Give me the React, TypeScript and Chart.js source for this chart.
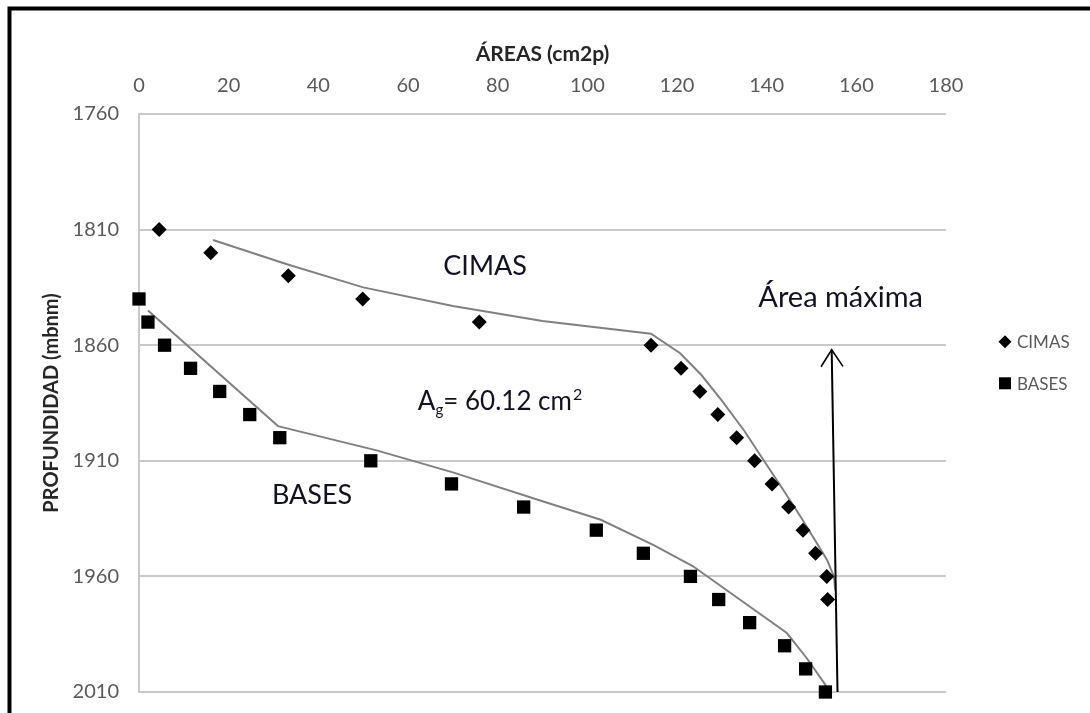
import React, { useEffect, useRef } from 'react';
import { Chart, registerables } from 'chart.js';

Chart.register(...registerables);

// ---- data ----
const cimasArea = [4.5, 16.0, 33.3, 49.9, 75.9, 114.2, 120.9, 125.1, 129.1, 133.3, 137.3, 141.2, 144.9, 148.1, 150.9, 153.4, 153.6];
const cimasDepth = [1810, 1820, 1830, 1840, 1850, 1860, 1870, 1880, 1890, 1900, 1910, 1920, 1930, 1940, 1950, 1960, 1970];

const basesArea = [0, 2.0, 5.7, 11.5, 18.0, 24.7, 31.4, 51.7, 69.7, 85.8, 102.0, 112.5, 123.0, 129.3, 136.2, 144.0, 148.7, 153.1];
const basesDepth = [1840, 1850, 1860, 1870, 1880, 1890, 1900, 1910, 1920, 1930, 1940, 1950, 1960, 1970, 1980, 1990, 2000, 2010];

// hand-drawn envelope lines
const cimasLineArea = [16.5, 33, 50, 70, 90, 114.2, 120.7, 125.5, 130, 135, 139.4, 143.5, 147.5, 151, 153.5, 155, 155.3];
const cimasLineDepth = [1814.5, 1825, 1835, 1843, 1849.5, 1855, 1863.5, 1873, 1884, 1897, 1910, 1922, 1934, 1945, 1953, 1960, 1966];

const basesLineArea = [2, 31, 53, 70, 90, 103, 114.8, 123.5, 134, 144.5, 149, 153.5];
const basesLineDepth = [1845, 1895, 1905.5, 1915, 1927.5, 1935.5, 1946.5, 1955.5, 1970, 1984.5, 1995.5, 2008];

// axis ticks
const xTickValues = [0, 20, 40, 60, 80, 100, 120, 140, 160, 180];
const yTickValues = [1760, 1810, 1860, 1910, 1960, 2010];

const seriesNames = ['CIMAS', 'BASES'];
const xTitle = 'ÁREAS (cm2p)';
const yTitle = 'PROFUNDIDAD (mbnm)';

// "Área máxima" arrow (area, depth): tail then tip
const arrowArea = [155.8, 154.5];
const arrowDepth = [2010, 1862];

// text notes placed in data coordinates
const noteTexts = ['CIMAS', 'BASES', 'Área máxima'];
const noteArea = [77.2, 38.6, 156.5];
const noteDepth = [1826, 1925, 1839.6];
const formulaArea = 62.2;
const formulaDepth = 1888.1;

const FONT = 'Lato, "Open Sans", sans-serif';

const overlay = {
  id: 'overlay',
  afterDraw(chart: any) {
    const ctx = chart.ctx as CanvasRenderingContext2D;
    const xs = chart.scales.x;
    const ys = chart.scales.y;
    ctx.save();

    // notes
    ctx.fillStyle = '#111122';
    ctx.textAlign = 'center';
    ctx.textBaseline = 'middle';
    noteTexts.forEach((t, i) => {
      ctx.font = `${i === 2 ? 29 : 27}px ${FONT}`;
      ctx.fillText(t, xs.getPixelForValue(noteArea[i]), ys.getPixelForValue(noteDepth[i]));
    });

    // formula A_g = 60.12 cm²
    let fx = xs.getPixelForValue(formulaArea);
    const fy = ys.getPixelForValue(formulaDepth);
    ctx.textAlign = 'left';
    ctx.textBaseline = 'alphabetic';
    ctx.font = `26px ${FONT}`;
    ctx.fillText('A', fx, fy);
    fx += ctx.measureText('A').width;
    ctx.font = `15px ${FONT}`;
    ctx.fillText('g', fx, fy + 5);
    fx += ctx.measureText('g').width;
    ctx.font = `26px ${FONT}`;
    ctx.fillText('= 60.12 cm', fx, fy);
    fx += ctx.measureText('= 60.12 cm').width + 1;
    ctx.font = `16px ${FONT}`;
    ctx.fillText('2', fx, fy - 10);

    // arrow
    const x1 = xs.getPixelForValue(arrowArea[0]);
    const y1 = ys.getPixelForValue(arrowDepth[0]);
    const x2 = xs.getPixelForValue(arrowArea[1]);
    const y2 = ys.getPixelForValue(arrowDepth[1]);
    ctx.strokeStyle = '#000';
    ctx.lineWidth = 2;
    ctx.beginPath();
    ctx.moveTo(x1, y1);
    ctx.lineTo(x2, y2);
    ctx.stroke();
    const ang = Math.atan2(y2 - y1, x2 - x1);
    const hl = 20;
    const ha = 0.58;
    ctx.lineWidth = 1.6;
    ctx.beginPath();
    ctx.moveTo(x2 - hl * Math.cos(ang - ha), y2 - hl * Math.sin(ang - ha));
    ctx.lineTo(x2, y2);
    ctx.lineTo(x2 - hl * Math.cos(ang + ha), y2 - hl * Math.sin(ang + ha));
    ctx.stroke();

    // legend
    const lx = 1005;
    const ly = [341.7, 383.3];
    ctx.fillStyle = '#000';
    ctx.beginPath();
    ctx.moveTo(lx - 6.5, ly[0]);
    ctx.lineTo(lx, ly[0] - 6.5);
    ctx.lineTo(lx + 6.5, ly[0]);
    ctx.lineTo(lx, ly[0] + 6.5);
    ctx.closePath();
    ctx.fill();
    ctx.fillRect(lx - 6, ly[1] - 6, 12, 12);
    ctx.fillStyle = '#595959';
    ctx.font = `17px ${FONT}`;
    ctx.textAlign = 'left';
    ctx.textBaseline = 'middle';
    seriesNames.forEach((n, i) => ctx.fillText(n, 1017, ly[i] + 1));

    // frame (top and left edges visible)
    ctx.strokeStyle = '#000';
    ctx.lineWidth = 4;
    ctx.beginPath();
    ctx.moveTo(1100, 8.5);
    ctx.lineTo(9.5, 8.5);
    ctx.lineTo(9.5, 720);
    ctx.stroke();

    ctx.restore();
  },
};

export default function App() {
  const ref = useRef<HTMLCanvasElement>(null);
  useEffect(() => {
    const canvas = ref.current!;
    const toPts = (xa: number[], ya: number[]) => xa.map((x, i) => ({ x, y: ya[i] }));
    const chart = new Chart(canvas, {
      type: 'scatter',
      data: {
        datasets: [
          {
            label: seriesNames[0],
            data: toPts(cimasArea, cimasDepth),
            pointStyle: 'rectRot',
            pointRadius: 7.5,
            backgroundColor: '#000',
            borderColor: '#000',
            borderWidth: 0,
            clip: false,
            order: 0,
          },
          {
            label: seriesNames[1],
            data: toPts(basesArea, basesDepth),
            pointStyle: 'rect',
            pointRadius: 9.4,
            backgroundColor: '#000',
            borderColor: '#000',
            borderWidth: 0,
            clip: false,
            order: 0,
          },
          {
            label: 'cimas-line',
            data: toPts(cimasLineArea, cimasLineDepth),
            showLine: true,
            pointRadius: 0,
            borderColor: '#808080',
            borderWidth: 2,
            fill: false,
            clip: false,
            order: 1,
          },
          {
            label: 'bases-line',
            data: toPts(basesLineArea, basesLineDepth),
            showLine: true,
            pointRadius: 0,
            borderColor: '#808080',
            borderWidth: 2,
            fill: false,
            clip: false,
            order: 1,
          },
        ],
      },
      options: {
        responsive: false,
        animation: false,
        devicePixelRatio: 1,
        layout: { padding: { left: 0, top: 0, right: 144, bottom: 21 } },
        plugins: { legend: { display: false }, tooltip: { enabled: false } },
        scales: {
          x: {
            type: 'linear',
            position: 'top',
            min: 0,
            max: 180,
            afterBuildTicks: (s: any) => {
              s.ticks = xTickValues.map((v) => ({ value: v }));
            },
            afterFit: (s: any) => {
              s.height = 114;
              s.paddingLeft = 0;
              s.paddingRight = 0;
            },
            grid: { display: false, drawTicks: false },
            border: { display: false },
            ticks: {
              padding: 16,
              color: '#595959',
              font: { family: FONT, size: 20 },
              callback: (v: any) => String(v),
            },
            title: {
              display: true,
              text: xTitle,
              color: '#262626',
              font: { family: FONT, size: 21, weight: 'bold' },
              padding: { top: 42, bottom: 0 },
            },
          },
          y: {
            type: 'linear',
            position: 'left',
            reverse: true,
            min: 1760,
            max: 2010,
            afterBuildTicks: (s: any) => {
              s.ticks = yTickValues.map((v) => ({ value: v }));
            },
            afterFit: (s: any) => {
              s.width = 139;
              s.paddingTop = 0;
              s.paddingBottom = 0;
            },
            grid: { color: '#c9c9c9', lineWidth: 2, drawTicks: false },
            border: { display: true, color: '#c9c9c9', width: 2 },
            ticks: {
              padding: 20,
              color: '#595959',
              font: { family: FONT, size: 20 },
              callback: (v: any) => String(v),
            },
            title: {
              display: true,
              text: yTitle,
              color: '#262626',
              font: { family: FONT, size: 20, weight: 'bold' },
              padding: { top: 40, bottom: 0 },
            },
          },
        },
      },
      plugins: [overlay],
    } as any);
    return () => chart.destroy();
  }, []);

  return (
    <div style={{ position: 'fixed', left: 0, top: 0, width: 1090, height: 713, background: '#fff' }}>
      <canvas ref={ref} width={1090} height={713} style={{ display: 'block' }} />
    </div>
  );
}
